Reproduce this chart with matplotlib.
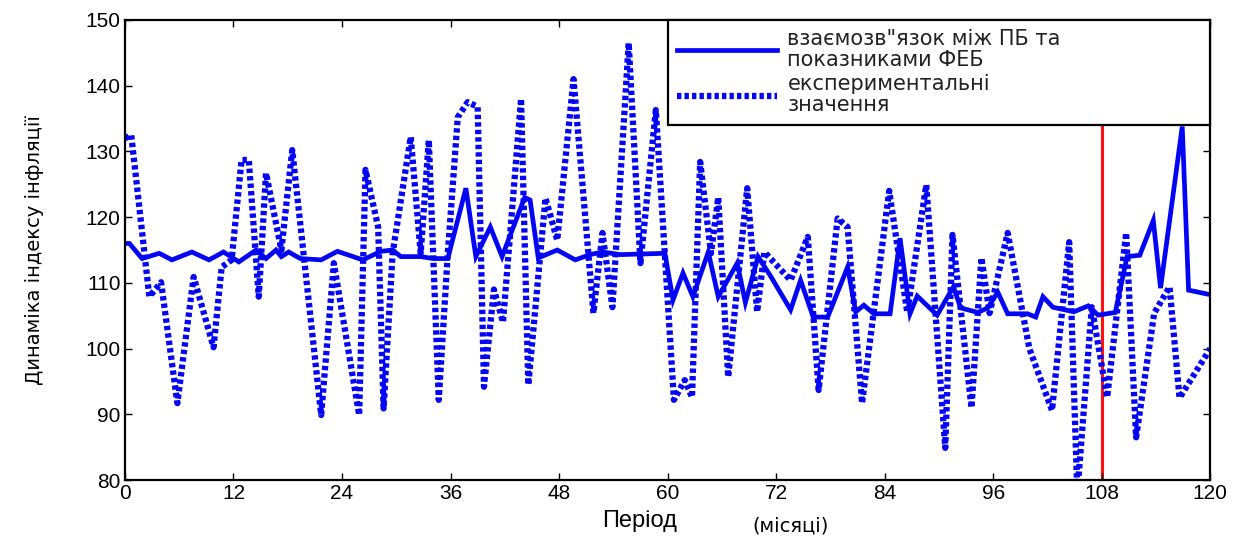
import numpy as np
import matplotlib.pyplot as plt

# model curve (month, value)
model_months = [0, 0.5, 1.9, 3.8, 5.2, 7.4, 9.3, 10.9, 12.6, 14.5, 15.6, 16.7, 17.3, 18.1,
                19.4, 21.7, 23.5, 26.3, 28.3, 29.6, 30.5, 32.7, 34.1, 35.7, 37.7, 38.8,
                40.4, 41.7, 44.2, 44.8, 45.7, 47.8, 49.8, 51.4, 52.8, 54.8, 59.7,
                60.6, 61.7, 62.8, 64.5, 65.6, 67.7, 68.6, 70.0, 71.4, 73.6, 74.7, 76.1,
                77.7, 79.9, 80.8, 81.7, 82.8, 84.6, 85.7, 86.8, 87.6, 89.8, 91.6, 92.4,
                94.3, 95.4, 96.5, 97.6, 99.8, 100.7, 101.5, 102.6, 104.9, 106.5, 107.6,
                109.5, 110.8, 112.2, 113.7, 114.5, 116.9, 117.6, 120]
model_vals = [116, 116, 113.7, 114.5, 113.5, 114.7, 113.5, 114.7, 113.2, 115, 113.7, 115, 114, 114.7,
              113.7, 113.5, 114.8, 113.5, 114.8, 115, 114, 114, 113.7, 113.7, 124.4, 114,
              118.5, 114, 123, 122.6, 113.8, 115, 113.5, 114.3, 114.7, 114.3, 114.5,
              107.4, 111.5, 107.9, 114.7, 107.9, 113, 107, 114, 111, 105.9, 110.4, 104.8,
              104.8, 112.4, 105.6, 106.6, 105.3, 105.3, 116.8, 105.3, 108, 105.1, 109.4, 106.2,
              105.5, 106.2, 108.6, 105.3, 105.3, 104.8, 107.9, 106.3, 105.6, 106.5, 105.1,
              105.5, 114, 114.2, 119.5, 109.2, 133.8, 108.9, 108.2]

# experimental values (month, value)
exp_months = [0, 0.7, 2.7, 4.0, 5.8, 7.6, 9.8, 10.7, 11.8, 12.9, 13.7, 14.8, 15.6, 17.3, 18.5,
              21.7, 23.1, 25.9, 26.6, 28.0, 28.6, 29.6, 31.6, 32.7, 33.6, 34.7, 35.7, 36.8,
              37.9, 39.0, 39.7, 40.8, 41.8, 43.8, 44.6, 46.5, 47.8, 49.6, 51.8, 52.8, 53.9,
              55.7, 57.0, 58.7, 60.7, 61.9, 62.7, 63.6, 64.8, 65.6, 66.7, 68.8, 69.9, 70.7,
              73.6, 75.5, 76.7, 78.8, 79.9, 81.5, 84.5, 86.5, 88.6, 90.7, 91.5, 93.6, 94.7,
              95.6, 97.6, 100.0, 102.5, 104.4, 105.3, 106.9, 108.6, 110.7, 111.8, 113.8,
              115.5, 116.6, 120]
exp_vals = [132, 132.5, 107.9, 110.1, 91.7, 110.9, 100.2, 112.4, 113.5, 128.7, 128.7, 107.9, 126.7, 115, 130.2,
            89.9, 113, 89.9, 127.2, 118.5, 90.9, 114.5, 132.2, 114.5, 131.7, 92.2, 114.5, 135.2,
            137.5, 136.8, 94.2, 109, 104, 138, 94.5, 122.9, 116.5, 141, 105.4, 117.6, 106.3,
            146.5, 113, 136.3, 92.2, 95.2, 92.6, 128.4, 114.5, 123, 95.7, 124.4, 105.6, 114.7,
            110.4, 117, 93.7, 119.8, 118.5, 91.7, 124, 105.5, 124.9, 84.9, 117.3, 91, 113.8,
            105.4, 117.6, 100, 90.6, 116.2, 78, 106.3, 92.6, 117.6, 86.5, 105.4,
            109.4, 92.5, 100]

forecast_start = 108
x_ticks = list(range(0, 121, 12))
y_ticks = list(range(80, 151, 10))

plt.rcParams['font.family'] = ['Liberation Sans', 'DejaVu Sans']

fig = plt.figure(figsize=(12.49, 5.4), dpi=100)
ax = fig.add_axes([0.1, 0.111, 0.869, 0.852])

blue = '#0505f5'
l2, = ax.plot(exp_months, exp_vals, color=blue, lw=4.5, linestyle=(0, (0.7, 0.5)),
              solid_capstyle='butt', dash_capstyle='butt')
l1, = ax.plot(model_months, model_vals, color=blue, lw=3.4, solid_joinstyle='miter')
ax.axvline(forecast_start, color='#ff1010', lw=2.2, zorder=1)

ax.set_xlim(0, 120)
ax.set_ylim(80, 150)
ax.set_xticks(x_ticks)
ax.set_yticks(y_ticks)
ax.tick_params(direction='in', length=5, width=1, top=True, right=True,
               labelsize=15, pad=3)
for s in ax.spines.values():
    s.set_linewidth(1.6)

leg = ax.legend([l1, l2],
                ['взаємозв"язок між ПБ та\nпоказниками ФЕБ',
                 'експериментальні\nзначення'],
                loc='upper left', bbox_to_anchor=(0.5, 0.0, 0.5, 1.0), mode='expand',
                prop={'family': 'DejaVu Sans', 'size': 15}, frameon=True, fancybox=False,
                edgecolor='black', handlelength=4.8, handletextpad=0.5,
                borderaxespad=0.0, labelspacing=0.2, borderpad=0.45)
leg.get_frame().set_linewidth(1.6)
leg.get_frame().set_alpha(1)
for t in leg.get_texts():
    t.set_linespacing(1.05)
    t.set_color('#222222')

ax.set_ylabel('Динаміка індексу інфляції', fontsize=14,
              family=['Liberation Sans Narrow', 'DejaVu Sans'], labelpad=30)
fig.text(0.512, 0.025, 'Період', fontsize=17, ha='center')
fig.text(0.633, 0.015, '(місяці)', fontsize=14, ha='center',
         family=['Liberation Sans Narrow', 'DejaVu Sans'])

fig.savefig('out.png', dpi=100)
